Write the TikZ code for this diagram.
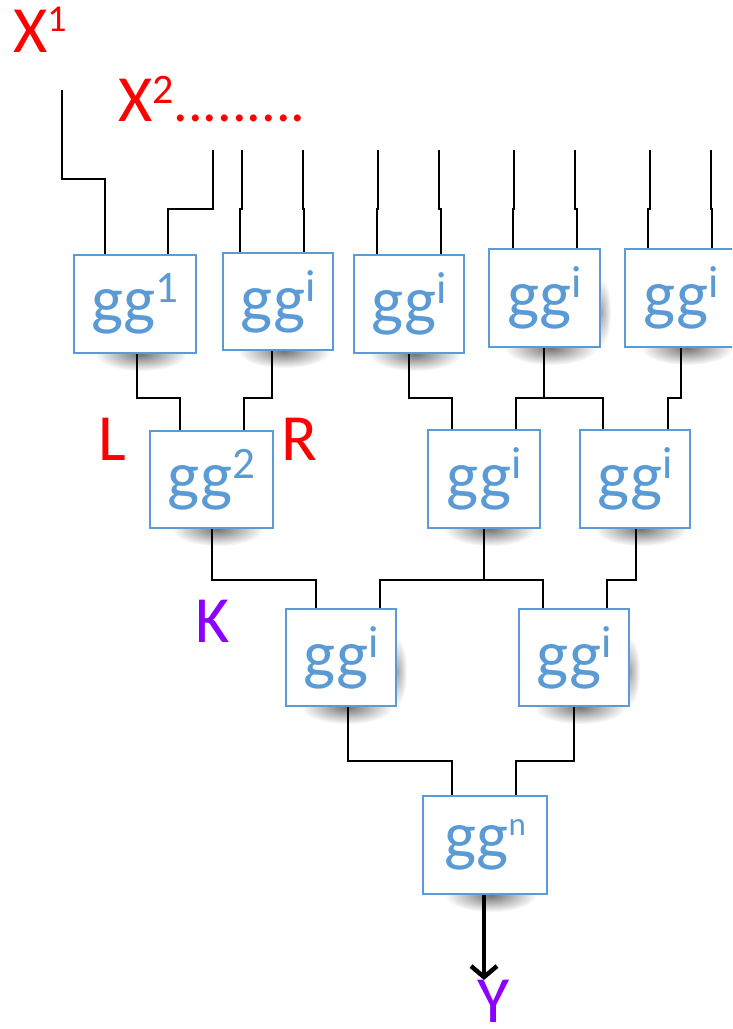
\documentclass[tikz,border=0pt]{standalone}
\usepackage{fontspec}
\setmainfont{Carlito}
\usetikzlibrary{arrows.meta,fadings,backgrounds}
\definecolor{boxblue}{RGB}{91,155,213}
\definecolor{labred}{RGB}{255,0,0}
\definecolor{labpurple}{RGB}{140,0,255}

% radial soft spot used for the gate shadows
\tikzfading[name=softspot, inner color=transparent!0, outer color=transparent!100]

% gate label: "gg" with a raised index of given size and lift
\newcommand{\gglabel}[3]{\fontsize{68}{68}\selectfont gg\raisebox{#2}{\fontsize{#1}{#1}\selectfont #3}}

\begin{document}
\begin{tikzpicture}[x=1pt,y=-1pt,
  gatebox/.style={draw=boxblue,line width=2.2pt,fill=white,text=boxblue,inner sep=0pt,
    minimum width=110pt,minimum height=98pt},
  wire/.style={line width=2.9pt,black},
  lab/.style={inner sep=0pt,anchor=base west,font=\fontsize{66}{66}\selectfont},
  boxshadow/.style={fill=black,opacity=0.55,path fading=softspot}]

\clip (0,0) rectangle (732,1029);

% gates, level 1
\node[gatebox,minimum width=122pt] (b1) at (135,304) {\gglabel{45}{20pt}{1}};
\node[gatebox,minimum height=97pt] (b2) at (278,301.5) {\gglabel{45}{20pt}{i}};
\node[gatebox] (b3) at (409,304) {\gglabel{45}{20pt}{i}};
\node[gatebox,minimum width=111pt] (b4) at (544.5,298) {\gglabel{45}{20pt}{i}};
\node[gatebox,minimum width=112pt] (b5) at (681,298) {\gglabel{45}{20pt}{i}};
% level 2
\node[gatebox,minimum width=123pt,minimum height=97pt] (c1) at (211.5,479.5) {\gglabel{45}{20pt}{2}};
\node[gatebox,minimum width=112pt] (c2) at (484,479) {\gglabel{45}{20pt}{i}};
\node[gatebox] (c3) at (635,479) {\gglabel{45}{20pt}{i}};
% level 3
\node[gatebox,minimum height=97pt] (d1) at (341,657.5) {\gglabel{45}{20pt}{i}};
\node[gatebox,minimum height=97pt] (d2) at (574,657.5) {\gglabel{45}{20pt}{i}};
% output gate
\node[gatebox,minimum width=124pt] (e) at (485,845) {\gglabel{33}{23pt}{n}};

% soft shadows under the gates
\begin{scope}[on background layer]
  \foreach \g in {b1,b2,b3,b4,b5,c1,c2,c3,d1,d2,e}
    \fill[boxshadow] ([xshift=6pt]\g.south) ellipse (46pt and 17pt);
  \foreach \g in {b4,d1,d2}
    \fill[boxshadow,opacity=0.35] ([yshift=-14pt]\g.east) ellipse (10pt and 34pt);
\end{scope}

% input wires
\coordinate (in1) at (62,90);
\coordinate (in2) at (213,150);
\coordinate (in3) at (242,150);
\coordinate (in4) at (303,150);
\coordinate (in5) at (378,150);
\coordinate (in6) at (439,150);
\coordinate (in7) at (514,150);
\coordinate (in8) at (575,150);
\coordinate (in9) at (650,150);
\coordinate (in10) at (711,150);

\draw[wire] (in1) |- (105,179) -- (105,0 |- b1.north);
\draw[wire] (in2) |- (168,209) -- (168,0 |- b1.north);
\draw[wire] (in3) -- (242,209) -- (240,209) -- (240,0 |- b2.north);
\draw[wire] (in4) -- (303,209) -- (304,209) -- (304,0 |- b2.north);
\draw[wire] (in5) -- (378,209) -- (377,209) -- (377,0 |- b3.north);
\draw[wire] (in6) -- (439,209) -- (441,209) -- (441,0 |- b3.north);
\draw[wire] (in7) -- (514,209) -- (513,209) -- (513,0 |- b4.north);
\draw[wire] (in8) -- (575,209) -- (577,209) -- (577,0 |- b4.north);
\draw[wire] (in9) -- (650,209) -- (648,209) -- (648,0 |- b5.north);
\draw[wire] (in10) -- (711,209) -- (712,209) -- (712,0 |- b5.north);

% level 1 -> level 2
\draw[wire] (137,0 |- b1.south) |- (180,398) -- (180,0 |- c1.north);
\draw[wire] (272,0 |- b2.south) |- (244,398) -- (244,0 |- c1.north);
\draw[wire] (b3.south) |- (452,398) -- (452,0 |- c2.north);
\draw[wire] (544,0 |- b4.south) -- (544,398);
\draw[wire] (516,0 |- c2.north) |- (603,398) -- (603,0 |- c3.north);
\draw[wire] (b5.south) |- (668,398) -- (668,0 |- c3.north);

% level 2 -> level 3
\draw[wire] (212,0 |- c1.south) |- (316,580) -- (316,0 |- d1.north);
\draw[wire] (c2.south) -- (484,580);
\draw[wire] (380,0 |- d1.north) |- (543,580) -- (543,0 |- d2.north);
\draw[wire] (636,0 |- c3.south) |- (607,580) -- (607,0 |- d2.north);

% level 3 -> output gate
\draw[wire] (348,0 |- d1.south) |- (452,761) -- (452,0 |- e.north);
\draw[wire] (d2.south) |- (516,761) -- (516,0 |- e.north);

% result
\coordinate (yend) at (484,980);
\draw[line width=4.5pt,-{Straight Barb[length=11pt,width=26pt]}] (484,0 |- e.south) -- (yend);

% labels
\node[lab,text=labred] (x1) at (13,52) {X\raisebox{21pt}{\fontsize{38}{38}\selectfont 1}};
\node[lab,text=labred] (x2) at (118,121) {X\raisebox{18pt}{\fontsize{42}{42}\selectfont 2}{\fontsize{58}{58}\selectfont .........}};
\node[lab,text=labred] (lL) at (98,460) {L};
\node[lab,text=labred] (lR) at (281,460) {R};
\node[lab,text=labpurple] (lK) at (195,642) {K};
\node[lab,text=labpurple,anchor=base] (lY) at (494,1022) {Y};
\end{tikzpicture}
\end{document}
